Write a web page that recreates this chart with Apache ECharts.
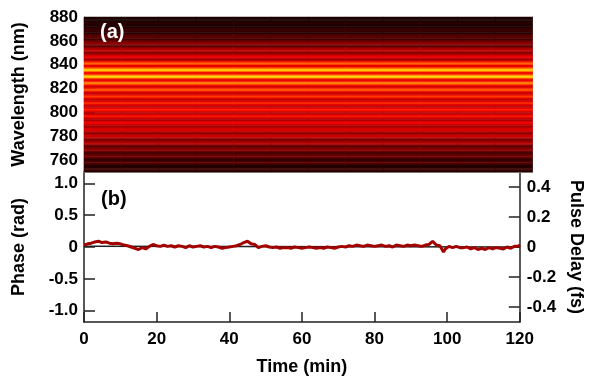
<!DOCTYPE html>
<html>
<head>
<meta charset="utf-8">
<script src="https://cdn.jsdelivr.net/npm/echarts@6/dist/echarts.min.js"></script>
<style>
  html, body { margin: 0; padding: 0; background: #fff; }
  #chart { width: 593px; height: 377px; }
</style>
</head>
<body>
<div id="chart"></div>
<script>
// spectrum (normalised), one value per 1 nm bin starting at 750 nm
const specStart = 750;
const spectrum = [
  0.08, 0.12, 0.14, 0.11, 0.07, 0.08, 0.14, 0.19, 0.19, 0.14,
  0.10, 0.16, 0.23, 0.27, 0.23, 0.16, 0.18, 0.25, 0.32, 0.33,
  0.27, 0.21, 0.28, 0.36, 0.42, 0.39, 0.30, 0.28, 0.37, 0.46,
  0.47, 0.41, 0.33, 0.37, 0.45, 0.52, 0.50, 0.42, 0.37, 0.43,
  0.53, 0.57, 0.50, 0.40, 0.41, 0.50, 0.59, 0.58, 0.48, 0.40,
  0.47, 0.57, 0.62, 0.55, 0.45, 0.43, 0.52, 0.62, 0.62, 0.52,
  0.43, 0.48, 0.60, 0.66, 0.60, 0.48, 0.45, 0.56, 0.69, 0.71,
  0.59, 0.47, 0.53, 0.67, 0.78, 0.73, 0.58, 0.51, 0.69, 0.89,
  0.94, 0.77, 0.58, 0.58, 0.75, 0.91, 0.86, 0.68, 0.55, 0.53,
  0.67, 0.72, 0.61, 0.48, 0.37, 0.45, 0.54, 0.53, 0.43, 0.35,
  0.31, 0.40, 0.45, 0.40, 0.31, 0.21, 0.26, 0.32, 0.32, 0.26,
  0.21, 0.15, 0.19, 0.22, 0.20, 0.16, 0.09, 0.10, 0.13, 0.14,
  0.11, 0.08, 0.06, 0.08, 0.10, 0.09, 0.07, 0.05, 0.05, 0.07
];
// time columns of the spectrogram (min)
const specTimes = [0, 10, 20, 30, 40, 50, 60, 70, 80, 90, 100, 110];

// measured phase (rad), one point every half minute from t = 0
const phaseStep = 0.5;
const phase = [
  0.03, 0.02, 0.05, 0.07, 0.06, 0.05, 0.08, 0.10, 0.09, 0.07,
  0.07, 0.09, 0.08, 0.06, 0.06, 0.07, 0.05, 0.07, 0.06, 0.04,
  0.05, 0.06, 0.03, 0.04, 0.02, 0.00, 0.00, 0.02, -0.02, -0.01,
  -0.04, -0.02, -0.01, -0.03, -0.03, 0.00, 0.01, 0.02, 0.04, 0.02,
  0.02, 0.00, 0.01, 0.03, 0.03, 0.01, 0.01, 0.03, 0.02, 0.00,
  0.00, 0.02, 0.02, 0.00, 0.01, 0.02, -0.01, 0.01, 0.02, 0.00,
  0.00, 0.02, 0.01, -0.01, 0.02, 0.01, 0.00, 0.02, 0.01, 0.00,
  -0.01, 0.01, 0.01, -0.01, 0.00, 0.01, -0.02, 0.00, -0.01, 0.01,
  0.00, -0.01, 0.01, 0.00, 0.02, 0.01, 0.04, 0.03, 0.07, 0.05,
  0.09, 0.07, 0.05, 0.06, 0.04, 0.02, -0.01, 0.01, 0.01, 0.00,
  0.02, 0.00, 0.00, 0.01, -0.01, 0.00, 0.00, -0.02, -0.02, 0.00,
  -0.01, -0.02, -0.01, 0.00, -0.02, -0.01, 0.00, -0.02, -0.01, 0.00,
  -0.02, -0.01, -0.01, -0.02, 0.00, -0.01, -0.01, 0.00, -0.02, -0.01,
  -0.01, -0.03, -0.02, 0.00, 0.00, -0.01, -0.01, -0.02, -0.02, 0.00,
  0.00, 0.02, 0.01, 0.00, 0.00, 0.02, 0.02, 0.00, 0.01, 0.03,
  0.03, 0.01, 0.02, 0.03, 0.01, 0.02, 0.03, 0.01, 0.02, 0.03,
  0.01, 0.02, 0.02, 0.00, 0.03, 0.02, 0.01, 0.03, 0.02, 0.00,
  0.00, 0.02, 0.03, 0.01, 0.02, 0.03, 0.01, 0.02, 0.03, 0.01,
  0.02, 0.03, 0.03, 0.01, 0.02, 0.03, 0.01, 0.02, 0.03, 0.02,
  0.04, 0.05, 0.09, 0.12, 0.03, 0.02, 0.02, 0.01, -0.08, -0.03,
  0.00, 0.01, 0.01, -0.01, -0.01, 0.01, 0.01, -0.01, 0.00, -0.01,
  -0.02, 0.00, -0.01, -0.03, -0.03, -0.01, -0.02, -0.04, -0.03, -0.02,
  -0.02, -0.04, -0.03, -0.01, -0.01, -0.03, -0.02, -0.01, -0.03, -0.02,
  -0.01, -0.03, -0.02, 0.00, -0.01, -0.02, 0.00, 0.01, 0.02, 0.01,
  0.03
];
const refTimes = [0, 120];
const refPhase = [0.01, 0.0];

const wlTicks = [760, 780, 800, 820, 840, 860, 880];
const phaseTicks = [-1, -0.5, 0, 0.5, 1];
const delayTicks = [-0.4, -0.2, 0, 0.2, 0.4];

const wlBins = spectrum.map((v, i) => String(specStart + i));
const heatData = [];
specTimes.forEach((t, xi) => {
  spectrum.forEach((v, yi) => heatData.push([xi, yi, v]));
});
const phaseData = phase.map((v, i) => [i * phaseStep, v]);
const refData = refTimes.map((t, i) => [t, refPhase[i]]);

const font = 'Liberation Sans, Arial, sans-serif';
const lbl = { color: '#000', fontWeight: 'bold', fontSize: 17, fontFamily: font };
const nm = { color: '#000', fontWeight: 'bold', fontSize: 18, fontFamily: font };
const fmt1 = v => (v === 0 ? '0' : v.toFixed(1));

const chart = echarts.init(document.getElementById('chart'));
chart.setOption({
  animation: false,
  title: [
    { text: '(a)', left: 95, top: 17, textStyle: { color: '#fff', fontSize: 20, fontWeight: 'bold', fontFamily: font } },
    { text: '(b)', left: 96, top: 184, textStyle: { color: '#000', fontSize: 20, fontWeight: 'bold', fontFamily: font } }
  ],
  grid: [
    { left: 84, right: 60.5, top: 17, height: 155 },
    { left: 84, right: 60.5, top: 172, bottom: 53.5 }
  ],
  visualMap: {
    show: false, min: 0, max: 1, seriesIndex: 0,
    inRange: { color: ['#000000', '#300000', '#600000', '#900000', '#c00000', '#f00000', '#ff4000', '#ff8000', '#ffc000', '#ffff00'] }
  },
  xAxis: [
    { type: 'category', gridIndex: 0, data: specTimes, show: false },
    {
      type: 'value', gridIndex: 1, min: 0, max: 120, interval: 20,
      axisLine: { onZero: false, lineStyle: { color: '#222', width: 1.5 } },
      axisTick: { inside: true, length: 10, lineStyle: { color: '#222', width: 1.5 } },
      splitLine: { show: false },
      axisLabel: Object.assign({ margin: 9 }, lbl),
      name: 'Time (min)', nameLocation: 'middle', nameGap: 36, nameTextStyle: nm
    },
    {
      type: 'value', gridIndex: 0, min: 0, max: 120, position: 'bottom',
      axisLine: { onZero: false, lineStyle: { color: '#999', width: 1 } },
      axisTick: { show: false }, axisLabel: { show: false }, splitLine: { show: false }
    }
  ],
  yAxis: [
    { type: 'category', gridIndex: 0, data: wlBins, show: false },
    {
      type: 'value', gridIndex: 0, min: 750, max: 880, position: 'left',
      axisLine: { show: true, onZero: false, lineStyle: { color: '#999', width: 1 } },
      axisTick: { inside: true, length: 11, customValues: [760, 780, 800, 820, 840, 860], lineStyle: { color: '#000', width: 1.5 } },
      splitLine: { show: false },
      axisLabel: Object.assign({ margin: 6, customValues: wlTicks }, lbl),
      name: 'Wavelength (nm)', nameLocation: 'middle', nameGap: 56, nameTextStyle: nm
    },
    {
      type: 'value', gridIndex: 0, min: 750, max: 880, position: 'right',
      axisLine: { show: true, onZero: false, lineStyle: { color: '#999', width: 1 } },
      axisTick: { show: false }, axisLabel: { show: false }, splitLine: { show: false }
    },
    {
      type: 'value', gridIndex: 1, min: -1.178, max: 1.178, position: 'left',
      axisLine: { show: true, onZero: false, lineStyle: { color: '#222', width: 1.5 } },
      axisTick: { inside: true, length: 11, customValues: phaseTicks, lineStyle: { color: '#222', width: 1.5 } },
      splitLine: { show: false },
      axisLabel: Object.assign({ margin: 6, customValues: phaseTicks, formatter: fmt1 }, lbl),
      name: 'Phase (rad)', nameLocation: 'middle', nameGap: 56, nameTextStyle: nm
    },
    {
      type: 'value', gridIndex: 1, min: -0.5, max: 0.5, position: 'right',
      axisLine: { show: true, onZero: false, lineStyle: { color: '#222', width: 1.5 } },
      axisTick: { inside: true, length: 11, customValues: delayTicks, lineStyle: { color: '#222', width: 1.5 } },
      splitLine: { show: false },
      axisLabel: Object.assign({ margin: 7, customValues: delayTicks, formatter: fmt1 }, lbl),
      name: 'Pulse Delay (fs)', nameLocation: 'middle', nameGap: 40, nameRotate: -90, nameTextStyle: nm
    }
  ],
  series: [
    {
      type: 'heatmap', xAxisIndex: 0, yAxisIndex: 0, data: heatData,
      itemStyle: { borderWidth: 0 }, emphasis: { disabled: true }
    },
    {
      type: 'line', xAxisIndex: 1, yAxisIndex: 3, data: refData,
      showSymbol: false, lineStyle: { color: '#222', width: 1.5 }, z: 2
    },
    {
      type: 'line', xAxisIndex: 1, yAxisIndex: 3, data: phaseData,
      showSymbol: false, lineStyle: { color: '#a30000', width: 3 }, z: 3
    }
  ]
});
</script>
</body>
</html>
